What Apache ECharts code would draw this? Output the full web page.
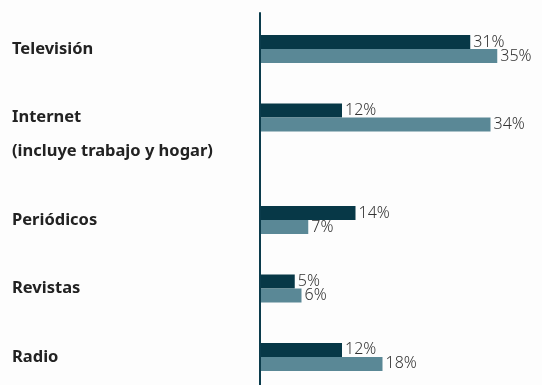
<!DOCTYPE html>
<html>
<head>
<meta charset="utf-8">
<script src="https://cdn.jsdelivr.net/npm/echarts@6/dist/echarts.min.js"></script>
<style>
  html, body { margin: 0; padding: 0; background: #fdfdfd; }
  #chart { width: 542px; height: 385px; }
</style>
</head>
<body>
<div id="chart"></div>
<script>
// ---- data ----
const categories = ['Televisión', 'Internet\n(incluye trabajo y hogar)', 'Periódicos', 'Revistas', 'Radio'];
const seriesA = [31, 12, 14, 5, 12];   // dark bars
const seriesB = [35, 34, 7, 6, 18];    // light bars

// ---- layout: empty category slots inserted before each category ----
const slotsBefore = [0, 1, 2, 1, 1];

const axisCats = [];
const dataA = [];
const dataB = [];
categories.forEach((c, i) => {
  for (let k = 0; k < slotsBefore[i]; k++) {
    axisCats.push('__gap' + axisCats.length);
    dataA.push('-');
    dataB.push('-');
  }
  axisCats.push(c);
  dataA.push(seriesA[i]);
  dataB.push(seriesB[i]);
});

const chart = echarts.init(document.getElementById('chart'), null, { renderer: 'canvas' });

const labelStyle = {
  show: true,
  position: 'right',
  distance: 3,
  formatter: '{c}%',
  fontFamily: 'Noto Sans',
  fontWeight: 300,
  fontSize: 16,
  color: '#333333'
};

chart.setOption({
  backgroundColor: '#fdfdfd',
  animation: false,
  grid: [
    { left: 261, top: 32, height: 342, width: 270, containLabel: false },
    { left: 260, top: 13, bottom: 0, width: 10, containLabel: false }
  ],
  xAxis: [
    { gridIndex: 0, type: 'value', min: 0, max: 40, show: false },
    { gridIndex: 1, type: 'value', show: false }
  ],
  yAxis: [
    {
      gridIndex: 0,
      type: 'category',
      inverse: true,
      data: axisCats,
      axisLine: { show: false },
      axisTick: { show: false },
      splitLine: { show: false },
      axisLabel: {
        align: 'left',
        margin: 249,
        formatter: function (name) {
          if (name.indexOf('__gap') === 0) return '';
          const lines = name.split('\n');
          const pre = [];
          for (let k = 1; k < lines.length; k++) pre.push('{s| }');
          return pre.concat(lines.map(l => '{a|' + l + '}')).join('\n');
        },
        rich: {
          a: { fontFamily: 'Noto Sans', fontWeight: 'bold', fontSize: 16.5, color: '#222222', lineHeight: 34 },
          s: { fontSize: 16.5, lineHeight: 34 }
        }
      }
    },
    {
      gridIndex: 1,
      type: 'value',
      axisLine: { show: true, lineStyle: { color: '#0b3c4c', width: 2 } },
      axisTick: { show: false },
      axisLabel: { show: false },
      splitLine: { show: false }
    }
  ],
  series: [
    {
      type: 'bar',
      xAxisIndex: 0, yAxisIndex: 0,
      data: dataA,
      barWidth: 14,
      barGap: '0%',
      itemStyle: { color: '#073847' },
      label: labelStyle
    },
    {
      type: 'bar',
      xAxisIndex: 0, yAxisIndex: 0,
      data: dataB,
      barWidth: 14,
      barGap: '0%',
      itemStyle: { color: '#5a8896' },
      label: labelStyle
    }
  ]
});
</script>
</body>
</html>
